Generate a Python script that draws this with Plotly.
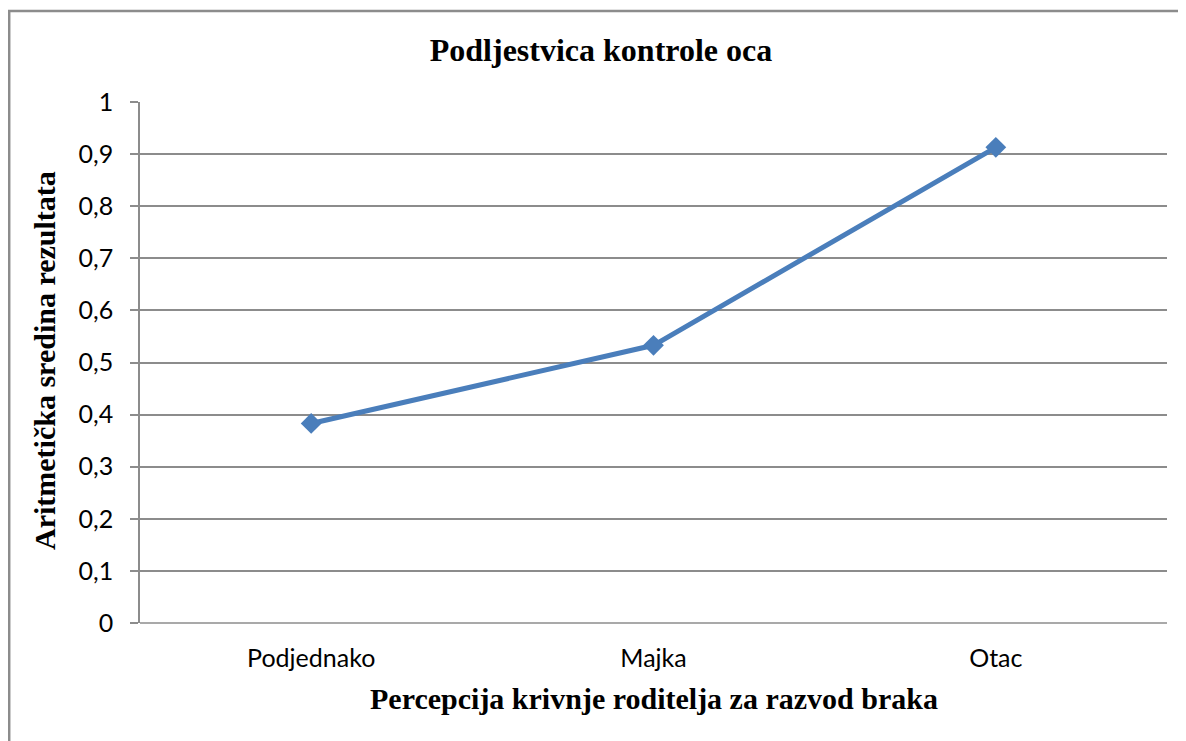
import plotly.graph_objects as go

categories = ["Podjednako", "Majka", "Otac"]
values = [0.383, 0.533, 0.913]
y_ticks = [0, 0.1, 0.2, 0.3, 0.4, 0.5, 0.6, 0.7, 0.8, 0.9, 1]
y_tick_labels = ["0", "0,1", "0,2", "0,3", "0,4", "0,5", "0,6", "0,7", "0,8", "0,9", "1"]

title_text = "Podljestvica kontrole oca"
x_title = "Percepcija krivnje roditelja za razvod braka"
y_title = "Aritmetička sredina rezultata"

BLUE = "#4A7EBB"
GRID = "#8C8C8C"
SERIF = "Liberation Serif, Times New Roman, serif"
SANS = "Lato, Open Sans, sans-serif"

# figure coordinates (page has an 8px body offset)
L, R, T, B = 132, 1159, 94, 615
PW, PH = R - L, B - T

fig = go.Figure()
fig.add_trace(go.Scatter(
    x=categories, y=values, mode="lines+markers",
    line=dict(color=BLUE, width=5),
    marker=dict(symbol="diamond", size=16, color=BLUE),
    showlegend=False, hoverinfo="x+y",
))

fig.update_layout(
    width=1186, height=741,
    margin=dict(l=L, r=1186 - R, t=T, b=741 - B, autoexpand=False),
    paper_bgcolor="white", plot_bgcolor="white",
    title=dict(text="<b>" + title_text + "</b>", x=0.5, xanchor="center",
               y=1 - 42 / 741, yanchor="middle",
               font=dict(family=SERIF, size=32, color="black")),
    xaxis=dict(
        type="category", range=[-0.5, 2.5], showgrid=False, zeroline=False,
        showline=False, ticks="", automargin=False, ticklabelstandoff=18,
        tickfont=dict(family=SANS, size=25, color="black"),
    ),
    yaxis=dict(
        range=[0, 1], tickvals=y_ticks, ticktext=y_tick_labels,
        showgrid=True, gridcolor=GRID, gridwidth=1.5,
        zeroline=False, showline=True, linecolor=GRID, linewidth=1.5,
        ticks="outside", ticklen=8, tickcolor=GRID, tickwidth=1.5,
        automargin=False, ticklabelstandoff=12,
        tickfont=dict(family=SANS, size=25, color="black"),
    ),
    annotations=[
        dict(text="<b>" + x_title + "</b>", xref="paper", yref="paper",
             x=0.5, y=(B - 690) / PH, xanchor="center", yanchor="middle",
             showarrow=False, font=dict(family=SERIF, size=30, color="black")),
        dict(text="<b>" + y_title + "</b>", xref="paper", yref="paper",
             x=(36 - L) / PW, y=(B - 353) / PH, xanchor="center", yanchor="middle",
             textangle=-90, showarrow=False,
             font=dict(family=SERIF, size=30, color="black")),
    ],
    shapes=[
        dict(type="line", xref="paper", yref="paper",
             x0=0, x1=1, y0=0, y1=0, line=dict(color=GRID, width=1.5)),
        dict(type="rect", xref="paper", yref="paper",
             x0=(1.2 - L) / PW, x1=1.2, y0=-0.4, y1=(B - 3) / PH,
             line=dict(color=GRID, width=2.5), layer="below"),
    ],
)

fig.write_html("out.html")
